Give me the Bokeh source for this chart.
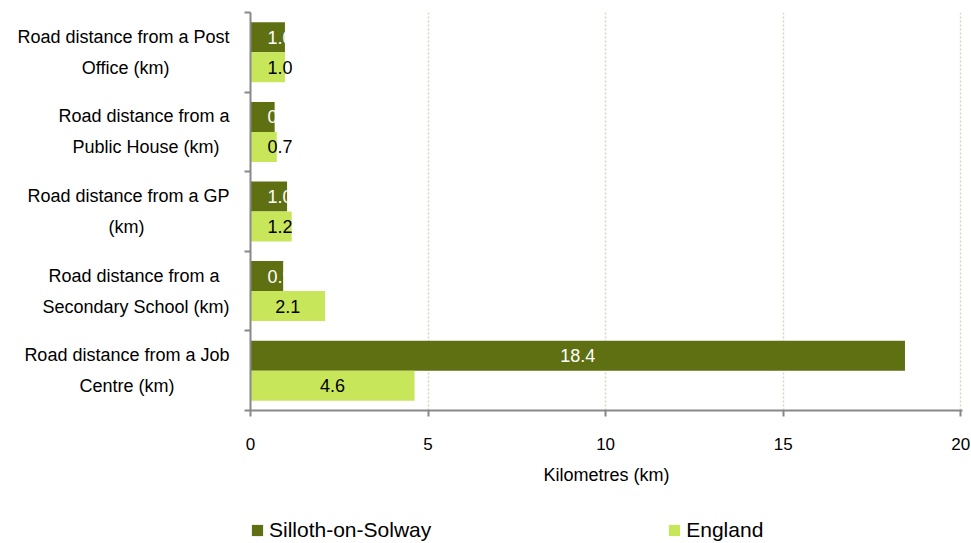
from bokeh.plotting import figure
from bokeh.models import ColumnDataSource, FixedTicker, Range1d, Legend, LegendItem
from bokeh.layouts import column
from bokeh.transform import dodge
from bokeh.core.properties import value
from bokeh.embed import file_html
from bokeh.resources import INLINE

# ---- data ----
cat_line1 = [
    "Road distance from a Post",
    "Road distance from a",
    "Road distance from a GP",
    "Road distance from a",
    "Road distance from a Job",
]
cat_line2 = [
    "Office (km)",
    "Public House (km)",
    "(km)",
    "Secondary School (km)",
    "Centre (km)",
]
silloth = [0.97, 0.68, 1.03, 0.92, 18.43]
england = [0.97, 0.74, 1.16, 2.1, 4.62]
series_names = ["Silloth-on-Solway", "England"]
x_ticks = [0, 5, 10, 15, 20]

# padding (non-breaking spaces) used only to centre the two label lines
pad1 = [0, 0, 0, 2, 0]
pad2 = [12, 2, 17, 0, 11]
NB = "\u00a0"
categories = [a + NB * p1 + "\n" + b + NB * p2
              for a, b, p1, p2 in zip(cat_line1, cat_line2, pad1, pad2)]

FONT = "Liberation Sans"
C_SIL = "#5E7012"
C_ENG = "#C8E65A"
C_AX = "#888888"

n = len(categories)
ypos = [n - i - 0.5 for i in range(n)]
min_lab = 0.83
src = ColumnDataSource(dict(
    y=ypos,
    silloth=silloth,
    england=england,
    slab=["%.1f" % v for v in silloth],
    elab=["%.1f" % v for v in england],
    sx=[max(v / 2, min_lab) for v in silloth],
    ex=[max(v / 2, min_lab) for v in england],
))

p = figure(width=971, height=510, x_range=Range1d(0, 20.05), y_range=Range1d(0, n),
           output_backend="svg", toolbar_location=None,
           min_border_left=250, min_border_right=9, min_border_top=12, min_border_bottom=100,
           x_axis_label="Kilometres (km)")
p.outline_line_color = None
p.background_fill_color = "white"

off = 0.1885
h = 0.377
r1 = p.hbar(y=dodge("y", off, range=p.y_range), left=0, right="silloth", height=h,
            source=src, fill_color=C_SIL, line_color=None)
r2 = p.hbar(y=dodge("y", -off, range=p.y_range), left=0, right="england", height=h,
            source=src, fill_color=C_ENG, line_color=None)

p.text(x="sx", y=dodge("y", off, range=p.y_range), text="slab", source=src,
       text_align="center", text_baseline="middle", text_color="white",
       text_font=value(FONT), text_font_size="18px")
p.text(x="ex", y=dodge("y", -off, range=p.y_range), text="elab", source=src,
       text_align="center", text_baseline="middle", text_color="black",
       text_font=value(FONT), text_font_size="18px")

# x axis
xa = p.xaxis[0]
xa.ticker = FixedTicker(ticks=x_ticks, minor_ticks=[])
xa.axis_line_color = C_AX
xa.axis_line_width = 2
xa.major_tick_line_color = C_AX
xa.major_tick_line_width = 2
xa.major_tick_out = 6
xa.major_tick_in = 0
xa.minor_tick_line_color = None
xa.major_label_standoff = 21
xa.major_label_text_font = FONT
xa.major_label_text_font_size = "17px"
xa.major_label_text_color = "black"
xa.axis_label_text_font = FONT
xa.axis_label_text_font_size = "18px"
xa.axis_label_text_font_style = "normal"
xa.axis_label_text_color = "black"
xa.axis_label_standoff = 12

# y axis
ya = p.yaxis[0]
ya.ticker = FixedTicker(ticks=ypos, minor_ticks=list(range(n + 1)))
ya.major_label_overrides = {y: c for y, c in zip(ypos, categories)}
ya.axis_line_color = C_AX
ya.axis_line_width = 2
ya.major_tick_line_color = None
ya.major_tick_out = 0
ya.major_tick_in = 0
ya.minor_tick_line_color = C_AX
ya.minor_tick_line_width = 2
ya.minor_tick_out = 6
ya.minor_tick_in = 0
ya.major_label_standoff = 15
ya.major_label_text_font = FONT
ya.major_label_text_font_size = "18px"
ya.major_label_text_color = "black"
ya.major_label_text_line_height = 1.55

# grid
p.xgrid.ticker = FixedTicker(ticks=x_ticks[1:])
p.xgrid.grid_line_color = "#D9D3BC"
p.xgrid.grid_line_dash = "2 2"
p.xgrid.grid_line_width = 1.5
p.ygrid.visible = False

# ---- legend strip below the chart ----
lf = figure(width=971, height=33, x_range=Range1d(0, 1), y_range=Range1d(0, 1),
            output_backend="svg", toolbar_location=None, min_border=0)
lf.axis.visible = False
lf.grid.visible = False
lf.outline_line_color = None
# swatch renderers (kept outside the visible range; used only for legend swatches)
swatch = ColumnDataSource(dict(y=[-5], right=[0]))
k1 = lf.hbar(y="y", right="right", height=1, source=swatch, fill_color=C_SIL, line_color=None)
k2 = lf.hbar(y="y", right="right", height=1, source=swatch, fill_color=C_ENG, line_color=None)
legend = Legend(items=[LegendItem(label=series_names[0], renderers=[k1]),
                       LegendItem(label=series_names[1], renderers=[k2])],
                orientation="horizontal", location=(0, 1),
                glyph_width=14, glyph_height=14, label_standoff=5,
                label_height=22, spacing=236, padding=0, margin=0,
                label_text_font=FONT, label_text_font_size="21px",
                label_text_color="black", border_line_color=None,
                background_fill_alpha=0)
lf.add_layout(legend, "center")

layout = column(p, lf, spacing=0)
open("out.html", "w").write(file_html(layout, INLINE))
